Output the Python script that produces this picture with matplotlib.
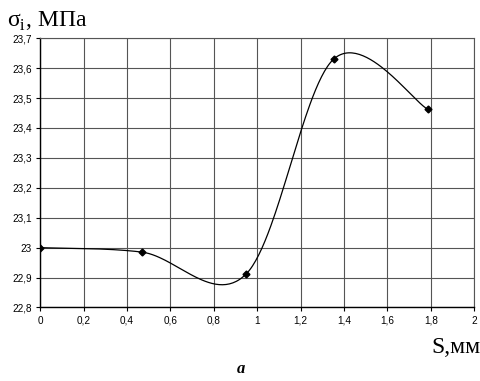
import numpy as np
import matplotlib
matplotlib.use('Agg')
import matplotlib.pyplot as plt
from matplotlib.ticker import FuncFormatter, MultipleLocator

s_mm = [0.0, 0.469, 0.949, 1.352, 1.787]
sigma = [23.0, 22.985, 22.912, 23.630, 23.462]

plt.rcParams['font.family'] = ['Liberation Sans', 'DejaVu Sans']
plt.rcParams['mathtext.fontset'] = 'custom'
plt.rcParams['mathtext.rm'] = 'Liberation Serif'


def smooth(x, y, n=60):
    # excel-like smoothed line (catmull-rom bezier)
    p = np.column_stack([x, y])
    p = np.vstack([p[0], p, p[-1]])
    out = []
    for i in range(1, len(p) - 2):
        p0, p1, p2, p3 = p[i - 1], p[i], p[i + 1], p[i + 2]
        c1 = p1 + (p2 - p0) / 6
        c2 = p2 - (p3 - p1) / 6
        t = np.linspace(0, 1, n)[:, None]
        b = (1 - t) ** 3 * p1 + 3 * (1 - t) ** 2 * t * c1 + 3 * (1 - t) * t ** 2 * c2 + t ** 3 * p2
        out.append(b)
    b = np.vstack(out)
    return b[:, 0], b[:, 1]


fig = plt.figure(figsize=(4.81, 3.81), dpi=100)
ax = fig.add_axes([0.0838, 0.193, 0.902, 0.7066])

cx, cy = smooth(s_mm, sigma)
ax.plot(cx, cy, color='black', lw=0.9)
ax.plot(s_mm, sigma, 'D', color='black', ms=3.5)

ax.set_xlim(0, 2)
ax.set_ylim(22.8, 23.7)
ax.xaxis.set_major_locator(MultipleLocator(0.2))
ax.yaxis.set_major_locator(MultipleLocator(0.1))
fmt = FuncFormatter(lambda v, p: ('%.1f' % v).rstrip('0').rstrip('.').replace('.', ','))
ax.xaxis.set_major_formatter(fmt)
ax.yaxis.set_major_formatter(fmt)
ax.tick_params(labelsize=7.2, direction='out', length=3, width=0.8, pad=3)
ax.grid(True, color='#555555', lw=0.8)
for k in ['top', 'right']:
    ax.spines[k].set_color('#555555')
    ax.spines[k].set_linewidth(0.8)
for k in ['left', 'bottom']:
    ax.spines[k].set_linewidth(1.0)

fig.text(0.015, 0.929, r'σ$_\mathrm{i}$, МПа', family='Liberation Serif', fontsize=17, va='baseline')
fig.text(0.999, 0.073, 'S,мм', family='Liberation Serif', fontsize=17, ha='right', va='baseline')
fig.text(0.5, 0.022, 'а', family='Liberation Serif', fontsize=12, weight='bold', style='italic', ha='center', va='baseline')

fig.savefig('out.png', dpi=100)
